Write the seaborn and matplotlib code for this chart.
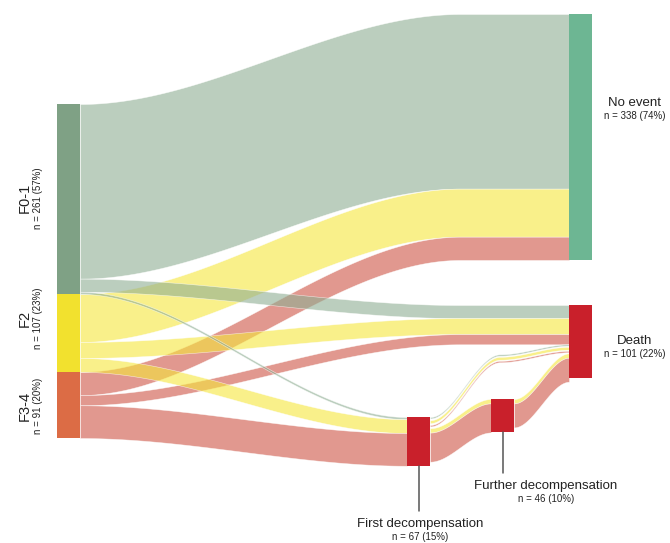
import numpy as np
import matplotlib
matplotlib.use("Agg")
import matplotlib.pyplot as plt
from matplotlib.colors import to_rgba
import seaborn as sns

# ---------------- data ----------------
stages = ["F0-1", "F2", "F3-4"]
stage_n = [261, 107, 91]
stage_pct = [57, 23, 20]
outcomes = ["No event", "Death"]
outcome_n = [338, 101]
outcome_pct = [74, 22]
events = ["First decompensation", "Further decompensation"]
event_n = [67, 46]
event_pct = [15, 10]

# flows by fibrosis stage (F0-1, F2, F3-4)
to_no_event = [240, 66, 32]
to_death = [18, 22, 14]
to_first = [3, 19, 45]
first_to_death = [2, 4, 2]
first_to_further = [0, 6, 40]
further_to_death = [0, 6, 33]

# ---------------- style / layout ----------------
sns.set_theme(style="white")
plt.rcParams["font.family"] = ["Liberation Sans", "DejaVu Sans"]

stage_node_colors = ["#7fa185", "#f2e12e", "#dc6c45"]
flow_colors = ["#8fae93", "#f5e63c", "#cd5444"]
flow_alpha = 0.6
noevent_color = "#6db693"
event_color = "#c9202b"

K = 0.7277          # pixels per patient
W = 23              # node width
X_LEFT, X_FIRST, X_FURTHER, X_RIGHT = 57, 407, 491, 569
LEFT_TOP = 104
NOEVENT_TOP, DEATH_TOP = 14, 305
FIRST_TOP, FURTHER_TOP = 417, 399
DIRECT_END = 460
THIN_MID_X, THIN_LIFT = 500, 10
GAP = 1.8

fig = plt.figure(figsize=(6.7, 5.43), dpi=100)
ax = fig.add_axes([0, 0, 1, 1])
ax.set_xlim(0, 670)
ax.set_ylim(543, 0)
ax.axis("off")


def smooth(t):
    t = np.clip(t, 0, 1)
    return t * t * (3 - 2 * t)


def path_y(keys, xs):
    y = np.full_like(xs, keys[0][1], dtype=float)
    for (xa, ya), (xb, yb) in zip(keys[:-1], keys[1:]):
        m = (xs >= xa) & (xs <= xb)
        y[m] = ya + (yb - ya) * smooth((xs[m] - xa) / (xb - xa))
    return y


def band(keys, value, color):
    if value <= 0:
        return
    xs = np.linspace(keys[0][0], keys[-1][0], 400)
    top = path_y(keys, xs)
    ax.fill_between(xs, top, top + value * K,
                    facecolor=to_rgba(color, flow_alpha),
                    edgecolor=(1, 1, 1, 0.7), linewidth=0.4, zorder=2)


# cursors
stage_tops = []
c = LEFT_TOP
for n in stage_n:
    stage_tops.append(c)
    c += n * K
left_cur = list(stage_tops)
noevent_cur = NOEVENT_TOP
death_cur = DEATH_TOP
first_in = FIRST_TOP
first_out = FIRST_TOP
further_in = FURTHER_TOP
further_out = FURTHER_TOP

xl = X_LEFT + W
# direct to no event
for i in range(3):
    band([(xl, left_cur[i]), (DIRECT_END, noevent_cur), (X_RIGHT, noevent_cur)],
         to_no_event[i], flow_colors[i])
    left_cur[i] += to_no_event[i] * K
    noevent_cur += to_no_event[i] * K
# direct to death
for i in range(3):
    band([(xl, left_cur[i]), (DIRECT_END, death_cur), (X_RIGHT, death_cur)],
         to_death[i], flow_colors[i])
    left_cur[i] += to_death[i] * K
    death_cur += to_death[i] * K
# to first decompensation
for i in range(3):
    band([(xl, left_cur[i]), (X_FIRST, first_in)], to_first[i], flow_colors[i])
    left_cur[i] += to_first[i] * K
    first_in += to_first[i] * K
# first -> death (thin strands, slightly separated)
for i in range(3):
    band([(X_FIRST + W, first_out), (THIN_MID_X, death_cur + THIN_LIFT),
          (X_RIGHT, death_cur)],
         first_to_death[i], flow_colors[i])
    first_out += first_to_death[i] * K + GAP
    death_cur += first_to_death[i] * K + GAP * 0.6
# first -> further
for i in range(3):
    band([(X_FIRST + W, first_out), (X_FURTHER, further_in)],
         first_to_further[i], flow_colors[i])
    first_out += first_to_further[i] * K
    further_in += first_to_further[i] * K
# further -> death
for i in range(3):
    band([(X_FURTHER + W, further_out), (X_RIGHT, death_cur)],
         further_to_death[i], flow_colors[i])
    further_out += further_to_death[i] * K
    death_cur += further_to_death[i] * K

# ---------------- nodes ----------------
ax.bar([X_LEFT + W / 2] * 3, [n * K for n in stage_n], bottom=stage_tops,
       width=W, color=stage_node_colors, linewidth=0, zorder=3)
ax.bar([X_RIGHT + W / 2] * 2, [n * K for n in outcome_n],
       bottom=[NOEVENT_TOP, DEATH_TOP], width=W,
       color=[noevent_color, event_color], linewidth=0, zorder=3)
ax.bar([X_FIRST + W / 2, X_FURTHER + W / 2], [n * K for n in event_n],
       bottom=[FIRST_TOP, FURTHER_TOP], width=W, color=event_color,
       linewidth=0, zorder=3)

# leader lines
ax.plot([X_FIRST + W / 2] * 2, [FIRST_TOP + event_n[0] * K, 511],
        color="#555555", lw=1.1, zorder=3)
ax.plot([X_FURTHER + W / 2] * 2, [FURTHER_TOP + event_n[1] * K, 473],
        color="#555555", lw=1.1, zorder=3)

# ---------------- labels ----------------
txt = "#222222"
label_y = [198, 318, 406]
for i, s in enumerate(stages):
    ax.text(25, label_y[i], s, rotation=90, ha="center", va="center",
            fontsize=10.5, color=txt)
    ax.text(38, label_y[i], f"n = {stage_n[i]} ({stage_pct[i]}%)", rotation=90,
            ha="center", va="center", fontsize=7, color=txt)

out_y = [103, 341]
for i, s in enumerate(outcomes):
    ax.text(635, out_y[i], s, ha="center", va="center", fontsize=9.5, color=txt)
    ax.text(635, out_y[i] + 13, f"n = {outcome_n[i]} ({outcome_pct[i]}%)",
            ha="center", va="center", fontsize=7, color=txt)

ev_pos = [(420, 524), (546, 486)]
for i, s in enumerate(events):
    x, y = ev_pos[i]
    ax.text(x, y, s, ha="center", va="center", fontsize=9.5, color=txt)
    ax.text(x, y + 13, f"n = {event_n[i]} ({event_pct[i]}%)",
            ha="center", va="center", fontsize=7, color=txt)

fig.savefig("out.png", dpi=100, facecolor="white")
